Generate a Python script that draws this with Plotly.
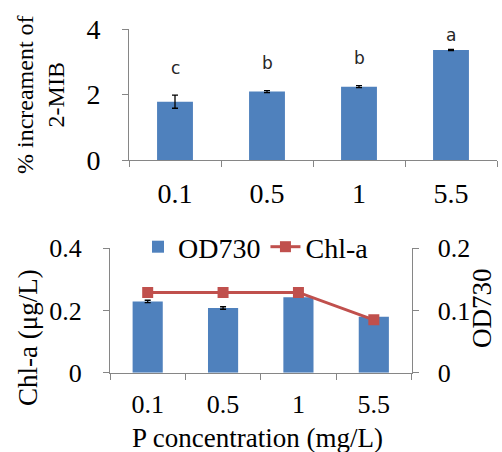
import plotly.graph_objects as go

# P concentration levels (mg/L)
categories = ["0.1", "0.5", "1", "5.5"]

# Upper panel: % increment of 2-MIB with SD and significance letters
mib_increment = [1.78, 2.09, 2.24, 3.36]
mib_sd = [0.20, 0.03, 0.03, 0.02]
mib_letters = ["c", "b", "b", "a"]

# Lower panel: OD730 (right axis) and Chl-a (left axis)
od730 = [0.1145, 0.104, 0.1215, 0.090]
od730_sd = [0.002, 0.002, 0.0, 0.0]
chla = [0.258, 0.258, 0.258, 0.170]

W, H = 502, 452
BLUE = "#4F81BD"
RED = "#C0504D"
AXIS = "#868686"
SERIF = "Liberation Serif"


def px(x):
    return x / W


def py(y):
    return 1 - y / H


fig = go.Figure()

fig.add_trace(go.Bar(
    x=categories, y=mib_increment, xaxis="x", yaxis="y",
    marker=dict(color=BLUE, line=dict(width=0)), width=0.39,
    error_y=dict(type="data", array=mib_sd, color="black", thickness=1.3, width=3),
    showlegend=False,
))

fig.add_trace(go.Bar(
    x=categories, y=od730, xaxis="x2", yaxis="y3", name="OD730",
    marker=dict(color=BLUE, line=dict(width=0)), width=0.4,
    error_y=dict(type="data", array=od730_sd, color="black", thickness=1.3, width=3),
))

fig.add_trace(go.Scatter(
    x=categories, y=chla, xaxis="x2", yaxis="y2", name="Chl-a",
    mode="lines+markers",
    line=dict(color=RED, width=3),
    marker=dict(symbol="square", size=11, color=RED),
))

# significance letters above the upper bars (positioned by category index)
for i, (val, sd, letter) in enumerate(zip(mib_increment, mib_sd, mib_letters)):
    fig.add_annotation(
        x=i, y=min(val + sd + 0.74, 3.73), xref="x", yref="y",
        text=letter, showarrow=False, yanchor="middle", yshift=3,
        font=dict(family="DejaVu Sans", size=17, color="#262626"),
    )

axis_common = dict(
    showline=True, linecolor=AXIS, linewidth=1, showgrid=False, zeroline=False,
    ticks="outside", tickcolor=AXIS, ticklen=6,
)

fig.update_layout(
    width=W, height=H,
    margin=dict(l=0, r=0, t=0, b=0, autoexpand=False),
    paper_bgcolor="white", plot_bgcolor="white",
    font=dict(family=SERIF, color="black"),
    xaxis=dict(
        domain=[px(129), px(497)], anchor="y", type="category",
        range=[-0.5, 3.5],
        tickson="boundaries", tickfont=dict(size=28), ticklabelstandoff=8,
        **axis_common,
    ),
    yaxis=dict(
        domain=[py(160), py(29)], anchor="x", range=[0, 4],
        tickvals=[0, 2, 4], tickfont=dict(size=28), ticklabelstandoff=16,
        **axis_common,
    ),
    xaxis2=dict(
        domain=[px(110), px(411.5)], anchor="y3", type="category",
        range=[-0.5, 3.5],
        tickson="boundaries", tickfont=dict(size=26), ticklabelstandoff=8,
        **axis_common,
    ),
    yaxis3=dict(
        domain=[py(372.7), py(248.3)], anchor="x2", side="right", range=[0, 0.2],
        tickvals=[0, 0.1, 0.2], tickfont=dict(size=26), ticklabelstandoff=14,
        **axis_common,
    ),
    yaxis2=dict(
        domain=[py(372.7), py(248.3)], anchor="x2", overlaying="y3", side="left",
        range=[0, 0.4], tickvals=[0, 0.2, 0.4], tickfont=dict(size=26),
        ticklabelstandoff=16,
        **axis_common,
    ),
    legend=dict(
        orientation="h", x=px(256), xanchor="center", y=py(247), yanchor="middle",
        font=dict(size=28), bgcolor="rgba(0,0,0,0)", itemwidth=30,
        tracegroupgap=0,
    ),
)

# axis titles
fig.add_annotation(
    x=px(40), y=py(95), xref="paper", yref="paper", textangle=-90,
    text="% increament of<br>2-MIB", showarrow=False,
    font=dict(family=SERIF, size=24), xanchor="center", yanchor="middle",
)
fig.add_annotation(
    x=px(28), y=py(338), xref="paper", yref="paper", textangle=-90,
    text="Chl-a (μg/L)", showarrow=False,
    font=dict(family=SERIF, size=27), xanchor="center", yanchor="middle",
)
fig.add_annotation(
    x=px(482), y=py(308), xref="paper", yref="paper", textangle=-90,
    text="OD730", showarrow=False,
    font=dict(family=SERIF, size=27), xanchor="center", yanchor="middle",
)
fig.add_annotation(
    x=px(257), y=py(438), xref="paper", yref="paper",
    text="P concentration (mg/L)", showarrow=False,
    font=dict(family=SERIF, size=27), xanchor="center", yanchor="middle",
)

fig.write_html("out.html")
